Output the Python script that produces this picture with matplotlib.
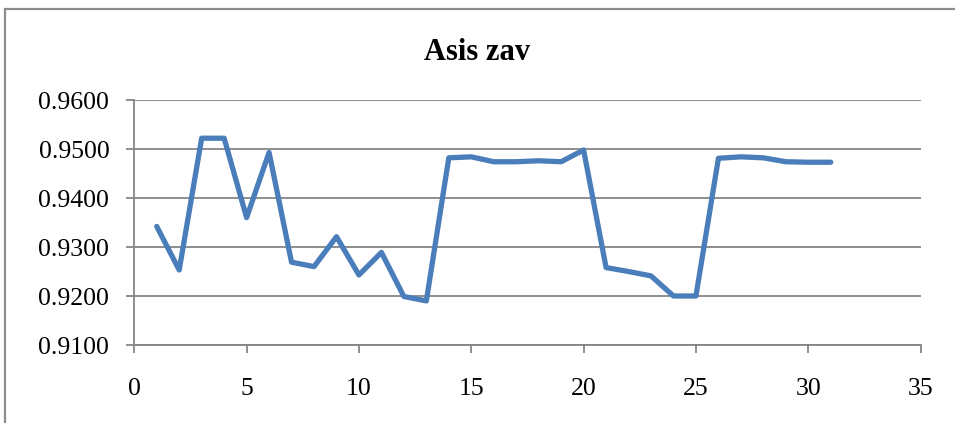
import matplotlib.pyplot as plt
from matplotlib.patches import Rectangle

# data
days = list(range(1, 32))
asis_zav = [
    0.9342, 0.9253, 0.9522, 0.9522, 0.9360, 0.9493, 0.9269, 0.9260,
    0.9321, 0.9243, 0.9289, 0.9199, 0.9190, 0.9482, 0.9484, 0.9474,
    0.9474, 0.9476, 0.9474, 0.9498, 0.9258, 0.9250, 0.9241, 0.9200,
    0.9200, 0.9481, 0.9484, 0.9482, 0.9474, 0.9473, 0.9473,
]
y_ticks = [0.91, 0.92, 0.93, 0.94, 0.95, 0.96]
x_ticks = [0, 5, 10, 15, 20, 25, 30, 35]

plt.rcParams["font.family"] = ["Liberation Serif", "DejaVu Serif"]
grid_col = "#868686"

fig = plt.figure(figsize=(9.55, 4.23), dpi=100)
ax = fig.add_axes([0.1406, 1 - 345 / 423, 0.964 - 0.1406, 245 / 423])

# outer chart frame (cut off at right and bottom, as in the screenshot)
fig.patches.append(Rectangle((5 / 955, -0.1), 1.0, 1.1 - 9.5 / 423,
                             transform=fig.transFigure, fill=False,
                             edgecolor="#8c8c8c", linewidth=1.6))

ax.plot(days, asis_zav, color="#4A7EBB", linewidth=3.8,
        solid_capstyle="round", solid_joinstyle="round", zorder=3)

ax.set_xlim(0, 35)
ax.set_ylim(0.91, 0.96)
ax.set_xticks(x_ticks)
ax.set_yticks(y_ticks)
ax.set_yticklabels([f"{v:.4f}" for v in y_ticks])
ax.grid(axis="y", color=grid_col, linewidth=1.3)
ax.set_axisbelow(True)

for s in ["top", "right"]:
    ax.spines[s].set_visible(False)
for s in ["left", "bottom"]:
    ax.spines[s].set_color(grid_col)
    ax.spines[s].set_linewidth(1.3)

ax.tick_params(axis="both", colors=grid_col, labelcolor="black",
               labelsize=18.5, length=6, width=1.3)
ax.tick_params(axis="x", pad=18)
ax.tick_params(axis="y", pad=12)

fig.text(0.5, 1 - 52 / 423, "Asis zav", ha="center", va="center",
         fontsize=22, fontweight="bold")

fig.savefig("out.png", dpi=100)
